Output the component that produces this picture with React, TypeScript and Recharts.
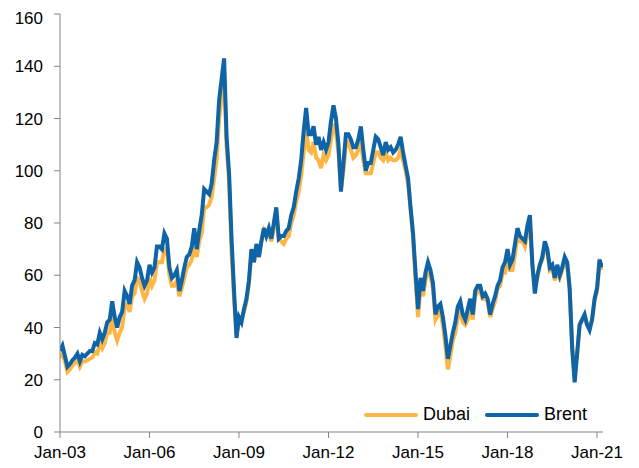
import React from 'react';
import { LineChart, Line, XAxis, YAxis } from 'recharts';

// monthly, index 0 = Jan 2003
const brent = [
  31, 33, 29, 25, 26, 27.5, 28.5, 30, 27, 29.5, 29, 30,
  31, 31, 34, 33.5, 38, 35.5, 38, 42, 43, 50, 44, 40,
  44, 46, 54, 52, 49, 56, 58, 65, 63, 59, 56, 58,
  64, 61, 63, 71, 71, 70, 76, 74, 63, 59, 60, 62,
  54, 58, 63, 67, 68, 71, 78, 70, 77, 83, 93, 92,
  91, 95, 104, 111, 127, 135, 143, 113, 99, 74, 54, 36,
  44, 42, 47, 51, 58, 70, 65, 72, 67, 73, 78, 75,
  78, 74, 80, 86, 74, 75, 75, 77, 78, 83, 86, 92,
  97, 104, 115, 124, 114, 114, 117, 110, 113, 108, 111, 108,
  111, 119, 125, 120, 110, 92, 103, 114, 114, 112, 109, 109,
  112, 117, 108, 100, 103, 103, 108, 113, 112, 109, 106, 111,
  108, 109, 107, 108, 110, 113, 107, 102, 97, 86, 76, 61,
  47, 59, 54, 61, 65, 62, 57, 45, 48, 49, 44, 37,
  28, 33, 38, 42, 48, 50, 45, 43, 47, 51, 45, 54,
  56, 56, 52, 53, 51, 45, 49, 52, 56, 58, 63, 65,
  70, 64, 66, 72, 78, 75, 74, 73, 79, 83, 64, 53,
  60, 64, 67, 73, 70, 63, 64, 59, 64, 60, 63, 67,
  65, 55, 32, 19, 30, 41, 43, 45, 41, 39, 43, 51,
  55, 66, 63,
];

const dubai = [
  28.5, 30, 27, 23, 24, 25.5, 26.5, 27.5, 25, 27, 27, 27.5,
  28, 28.5, 30.5, 30, 34, 32, 34, 38, 38, 45, 38, 35,
  38, 40, 48, 49, 46, 52, 53, 59, 58, 54, 51, 53,
  59, 56, 58, 65, 65, 65, 70, 70, 60, 56, 56, 58,
  52, 55, 59, 63, 64, 66, 71, 67, 73, 76, 86, 86,
  87, 90, 97, 104, 120, 128, 138, 109, 96, 69, 51, 37,
  43, 43, 46, 50, 57, 69, 65, 71, 67, 73, 77, 75,
  76, 73, 78, 82, 74, 73, 72, 74, 75, 80, 83, 88,
  92, 98, 107, 116, 108, 107, 111, 105, 104, 101, 106, 104,
  106, 112, 118, 115, 107, 93, 100, 110, 111, 108, 105, 106,
  108, 111, 104, 99, 99, 99, 103, 107, 107, 105, 104, 107,
  104, 105, 104, 104, 105, 108, 104, 100, 95, 85, 74, 58,
  44, 55, 52, 58, 62, 60, 55, 43, 45, 46, 41, 33,
  24, 29, 35, 38, 44, 46, 42, 41, 43, 48, 43, 52,
  54, 54, 51, 51, 50, 44, 47, 50, 55, 56, 61, 61,
  67, 62, 62, 68, 75, 73, 73, 71, 76, 79, 64, 55,
  59, 64, 66, 71, 69, 62, 63, 58, 61, 59, 62, 65,
  64, 54, 33, 21, 30, 41, 43, 44, 41, 40, 43, 50,
  54, 64, 62,
];

const xTicks = [0, 36, 72, 108, 144, 180, 216];
const xLabels = ['Jan-03', 'Jan-06', 'Jan-09', 'Jan-12', 'Jan-15', 'Jan-18', 'Jan-21'];
const yTicks = [0, 20, 40, 60, 80, 100, 120, 140, 160];

const series = [
  { key: 'dubai', name: 'Dubai', color: '#FDB643' },
  { key: 'brent', name: 'Brent', color: '#0E64A6' },
];

const data = brent.map((b, i) => ({ m: i, brent: b, dubai: dubai[i] }));

const font = '"Liberation Sans", Arial, sans-serif';
const axisColor = '#858585';

export default function App() {
  return (
    <div style={{ position: 'relative', width: 631, height: 460, fontFamily: font }}>
      <LineChart width={631} height={460} data={data} margin={{ top: 6, right: 36, bottom: 6, left: 0 }}>
        <XAxis
          dataKey="m"
          type="number"
          domain={[0, 218.4]}
          ticks={xTicks}
          tickFormatter={(v: number) => xLabels[xTicks.indexOf(v)]}
          height={30}
          tickSize={6}
          tickMargin={8}
          stroke={axisColor}
          tick={{ fill: '#000', fontSize: 17, fontFamily: font }}
          allowDataOverflow
        />
        <YAxis
          domain={[0, 160]}
          ticks={yTicks}
          width={52}
          tickSize={6}
          tickMargin={11}
          stroke={axisColor}
          tick={{ fill: '#000', fontSize: 17, fontFamily: font }}
        />
        {series.map((s) => (
          <Line
            key={s.key}
            dataKey={s.key}
            name={s.name}
            stroke={s.color}
            strokeWidth={4}
            dot={false}
            type="linear"
            isAnimationActive={false}
          />
        ))}
      </LineChart>
      <div style={{ position: 'absolute', left: 356, top: 396, display: 'flex', alignItems: 'center', fontSize: 18, color: '#000' }}>
        {series.map((s, i) => (
          <div key={s.key} style={{ display: 'flex', alignItems: 'center', marginLeft: i ? 15 : 0 }}>
            <div style={{ width: 54, height: 4, background: s.color, borderRadius: 2, marginRight: 5 }} />
            <span>{s.name}</span>
          </div>
        ))}
      </div>
    </div>
  );
}
